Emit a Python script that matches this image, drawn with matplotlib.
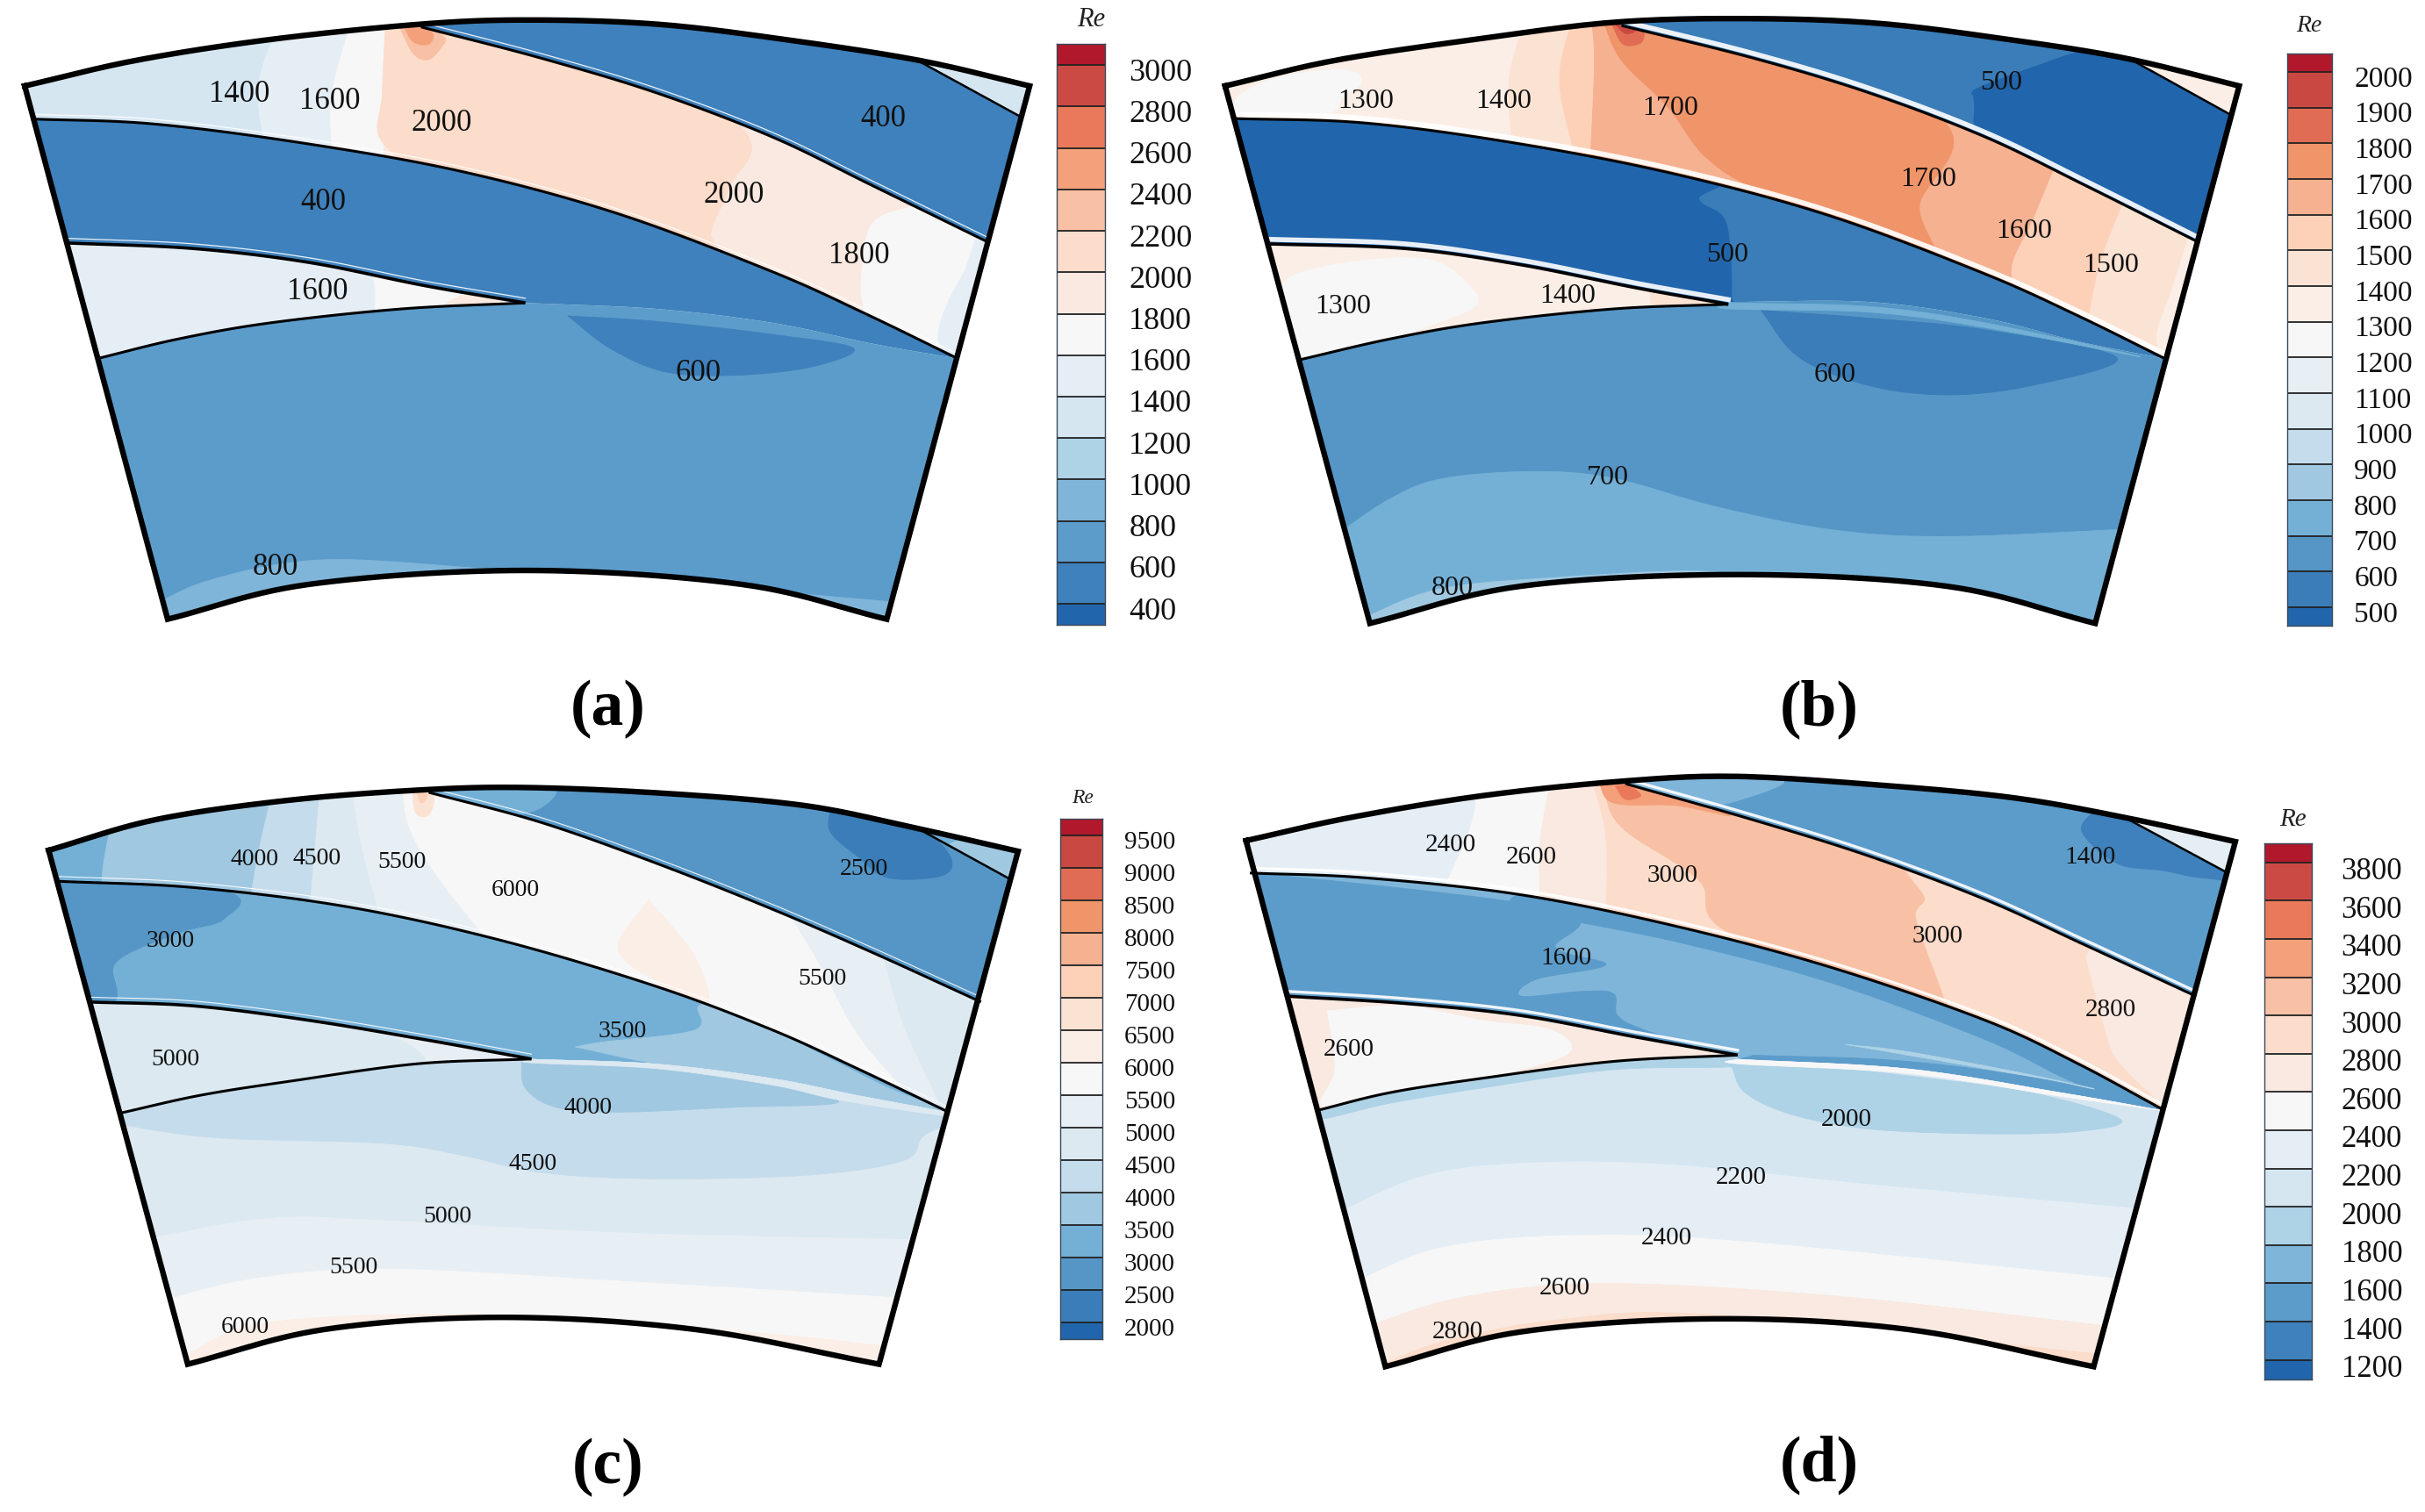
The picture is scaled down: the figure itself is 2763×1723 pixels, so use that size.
import numpy as np
import matplotlib
matplotlib.use("Agg")
import matplotlib.pyplot as plt
from matplotlib.colors import ListedColormap, BoundaryNorm
from matplotlib.patches import Polygon, PathPatch
from matplotlib.path import Path
from matplotlib.transforms import ScaledTranslation

plt.rcParams['font.family'] = ['Liberation Serif', 'DejaVu Serif']

PAL15 = ["#2166ac","#3e81bc","#5c9ccb","#7fb5d9","#aed2e6","#d5e6f1","#e6eef5","#f7f7f7","#f9e9e0","#fcdcca","#f8c0a4","#f4a07a","#e9795a","#cc4a44","#b2182b"]
PAL17 = ["#2166ac","#3a7db8","#5596c6","#74b0d6","#a0c8e1","#c5dcec","#dce9f1","#e8eff4","#f7f7f7","#fbeee6","#fbe3d4","#fdd1b8","#f6b191","#f09469","#e16c54","#ca4842","#b2182b"]

levels_a = list(range(400, 3001, 200))
levels_b = list(range(500, 2001, 100))
levels_c = list(range(2000, 9501, 500))
levels_d = list(range(1200, 3801, 200))

# ---------- panel a geometry ----------
top_a = [(32,185),(176,130),(350,85),(545,52),(683,43),(850,52),(1016,85),(1190,130),(1333,185)]
bot_a = [(217,1333),(400,1258),(680,1228),(960,1258),(1148,1333)]
b1_a = [(545,58),(700,125),(850,200),(1000,295),(1130,400),(1280,522)]
b2_a = [(40,256),(200,267),(400,310),(600,370),(800,460),(1000,585),(1120,675),(1240,772)]
b3_a = [(86,523),(250,535),(400,565),(550,615),(680,652)]
b4_a = [(680,652),(520,665),(350,695),(230,730),(126,772)]
wake_a = [(680,652),(850,665),(1000,695),(1130,740),(1240,772)]
corner_a = [(1190,132),(1322,252)]
regions_a = [
 ('z1',1300,None,None),
 ('z1',1500,[(370,20),(335,180),(345,340)],'R'),
 ('z1',1700,[(460,20),(430,200),(430,340)],'R'),
 ('z1',1900,[(500,20),(497,200),(497,340)],'R'),
 ('z1',2100,[(500,30),(495,200),(497,310),(600,400),(920,570),(920,500),(945,400),(965,285),(800,100),(500,30)],None),
 ('z1',1700,[(1190,440),(1130,480),(1115,600),(1120,690)],'R'),
 ('z1',1500,[(1250,580),(1225,660),(1215,730),(1235,790)],'R'),
 ('z1',2300,[(515,50),(535,115),(555,128),(572,100),(575,80),(545,50),(515,50)],None),
 ('z1',2500,[(522,55),(535,90),(555,95),(560,72),(540,55),(522,55)],None),
 ('z2',500,None,None),
 ('z3',1300,None,None),
 ('z4',500,None,None),
 ('z5',1500,None,None),
 ('z5',1700,[(470,560),(485,610),(485,700)],'R'),
 ('z5',1900,[(580,650),(605,635),(650,652),(580,660),(580,650)],None),
 ('z6',700,None,None),
 ('z6',500,[(735,680),(790,750),(860,800),(950,808),(1050,790),(1105,750),(1000,720),(850,692),(735,680)],None),
 ('z6',900,[(180,1320),(270,1250),(420,1205),(640,1225),(800,1232),(1000,1272),(1170,1298)],'D'),
]
labels_a = [("1400",310,198),("1600",427,212),("2000",572,260),("400",1143,250),("400",418,430),("2000",950,415),("1800",1112,545),("1600",411,622),("600",904,798),("800",357,1215)]

# ---------- panel b geometry ----------
top_b = [(18,185),(160,130),(340,85),(520,48),(690,40),(860,50),(1030,85),(1180,125),(1328,185)]
bot_b = [(205,1342),(400,1262),(680,1237),(950,1262),(1142,1342)]
b1_b = [(530,55),(700,125),(850,200),(1000,295),(1130,400),(1276,522)]
b2_b = [(26,255),(200,265),(400,310),(600,375),(800,465),(1000,590),(1120,680),(1232,772)]
b3_b = [(72,525),(250,535),(400,570),(550,620),(668,655)]
b4_b = [(668,655),(520,665),(350,695),(230,730),(113,775)]
wake_b = [(668,650),(850,650),(1000,685),(1120,735),(1232,772)]
corner_b = [(1190,130),(1318,248)]
regions_b = [
 ('z1',1350,None,None),
 ('z1',1250,[(25,232),(40,200),(90,165),(170,150),(195,175),(170,210),(150,245),(60,245),(25,232)],None),
 ('z1',1450,[(410,20),(385,170),(390,340)],'R'),
 ('z1',1550,[(470,20),(450,170),(470,340)],'R'),
 ('z1',1650,[(490,20),(495,130),(490,340)],'R'),
 ('z1',1750,[(505,40),(530,130),(590,230),(640,340),(720,420),(925,560),(915,440),(955,280),(800,100),(505,40)],None),
 ('z1',1550,[(1085,380),(1060,480),(1035,570),(1040,640)],'R'),
 ('z1',1450,[(1175,450),(1150,560),(1135,680),(1140,740)],'R'),
 ('z1',1350,[(1255,550),(1240,630),(1222,720),(1230,800)],'R'),
 ('z1',1850,[(517,50),(532,95),(555,92),(558,65),(540,50),(517,50)],None),
 ('z1',1950,[(522,52),(535,72),(548,66),(540,52),(522,52)],None),
 ('z2',550,None,None),
 ('z2',450,[(985,210),(990,190),(1070,140),(1130,110),(1200,115),(1400,300),(1400,600),(1130,420),(1000,310),(985,210)],None),
 ('z3',1350,None,None),
 ('z4',550,None,None),
 ('z4',450,[(-20,200),(620,350),(630,430),(665,480),(672,640),(660,680),(-20,600),(-20,200)],None),
 ('z5',1350,None,None),
 ('z5',1250,[(80,640),(110,590),(200,560),(285,560),(330,610),(340,660),(250,720),(130,790),(90,720),(80,640)],None),
 ('z5',1450,[(565,600),(568,650),(570,700)],'R'),
 ('z6',650,None,None),
 ('z6',550,[(710,668),(760,770),(850,830),(950,850),(1060,830),(1170,770),(1000,710),(850,685),(710,668)],None),
 ('z6',750,[(150,1165),(230,1075),(300,1030),(420,1015),(520,1030),(650,1090),(800,1140),(950,1155),(1200,1138)],'D'),
 ('z6',850,[(190,1335),(290,1270),(430,1245),(650,1232),(660,1300)],'D'),
 ('z6',750,[(668,652),(850,660),(1000,695),(1200,768),(1000,705),(850,672),(668,665),(668,652)],None),
]
labels_b = [("1300",200,212),("1400",378,212),("1700",593,227),("500",1020,173),("1700",926,381),("1600",1050,492),("1500",1162,565),("500",667,543),("1400",460,632),("1300",170,655),("600",806,802),("700",512,1023),("800",312,1260)]

# ---------- panel c geometry ----------
top_c = [(63,198),(200,135),(370,95),(545,73),(680,68),(860,80),(1040,105),(1180,150),(1318,200)]
bot_c = [(243,1262),(420,1190),(650,1165),(900,1190),(1138,1262)]
b1_c = [(555,78),(700,140),(850,225),(1000,320),(1130,410),(1270,512)]
b2_c = [(74,262),(250,275),(450,315),(650,385),(850,480),(1000,570),(1110,650),(1228,740)]
b3_c = [(114,512),(250,520),(400,550),(550,590),(688,630)]
b4_c = [(688,630),(540,640),(380,675),(260,705),(156,742)]
wake_c = [(688,630),(850,640),(1000,670),(1110,705),(1228,740)]
corner_c = [(1185,150),(1308,258)]
regions_c = [
 ('z1',3250,None,None),
 ('z1',3750,[(150,100),(135,215),(130,300)],'R'),
 ('z1',4250,[(355,60),(335,200),(320,340)],'R'),
 ('z1',4750,[(415,60),(400,340)],'R'),
 ('z1',5250,[(455,60),(470,200),(500,380)],'R'),
 ('z1',5750,[(520,50),(530,150),(570,260),(650,420)],'R'),
 ('z1',6250,[(840,300),(900,420),(915,520),(850,470),(800,400),(840,300)],None),
 ('z1',5250,[(1010,300),(1060,430),(1120,600),(1225,780)],'R'),
 ('z1',4750,[(1140,400),(1170,560),(1210,700),(1230,780)],'R'),
 ('z1',6750,[(533,60),(538,120),(555,125),(562,85),(550,60),(533,60)],None),
 ('z1',7250,[(538,70),(545,100),(553,85),(546,70),(538,70)],None),
 ('z2',2750,None,None),
 ('z2',3250,[(555,60),(710,60),(700,110),(640,125),(555,90),(555,60)],None),
 ('z2',2250,[(1075,110),(1075,160),(1110,210),(1150,255),(1220,250),(1230,210),(1190,150),(1120,110),(1075,110)],None),
 ('z3',3250,None,None),
 ('z3',3750,[(1250,170),(1225,200),(1290,260),(1340,260),(1340,170),(1250,170)],None),
 ('z4',3250,None,None),
 ('z4',2750,[(-20,230),(285,280),(290,340),(230,370),(150,430),(140,520),(-20,540),(-20,230)],None),
 ('z4',3750,[(745,605),(780,595),(900,570),(905,520),(950,530),(1050,610),(1150,690),(1230,745),(1000,675),(850,640),(745,605)],None),
 ('z5',4750,None,None),
 ('z5',5250,[(480,560),(540,610),(560,660)],'R'),
 ('z6',4750,None,None),
 ('z6',4250,[(140,760),(210,780),(300,795),(500,805),(600,830),(700,865),(850,878),(1050,870),(1170,840),(1195,790),(1240,740),(1240,600),(140,600),(140,760)],None),
 ('z6',3750,[(675,630),(680,690),(720,730),(800,740),(950,730),(1085,720),(1000,680),(850,650),(675,630)],None),
 ('z6',4750,[(688,630),(850,640),(1000,670),(1110,705),(1228,740),(1225,748),(1090,716),(1000,684),(850,650),(688,638),(688,630)],None),
 ('z6',5250,[(180,1005),(350,960),(500,965),(800,990),(1200,1005)],'D'),
 ('z6',5750,[(200,1135),(330,1085),(500,1065),(800,1090),(1170,1125)],'D'),
 ('z6',6250,[(230,1250),(350,1175),(650,1160),(1000,1200),(1160,1228)],'D'),
]
labels_c = [("4000",329,214),("4500",410,212),("5500",520,218),("6000",667,277),("2500",1118,233),("3000",221,383),("5500",1065,461),("3500",806,570),("5000",227,628),("4000",761,728),("4500",690,843),("5000",579,953),("5500",458,1058),("6000",317,1182)]

# ---------- panel d geometry ----------
top_d = [(45,178),(180,130),(350,85),(530,55),(680,45),(880,65),(1040,90),(1180,130),(1323,180)]
bot_d = [(225,1267),(400,1195),(650,1168),(900,1190),(1140,1267)]
b1_d = [(535,60),(700,135),(850,210),(1000,300),(1130,395),(1272,500)]
b2_d = [(50,245),(200,255),(400,290),(600,355),(800,440),(1000,550),(1120,640),(1232,737)]
b3_d = [(98,500),(250,515),(400,540),(550,585),(680,622)]
b4_d = [(680,622),(520,635),(350,670),(230,700),(136,737)]
wake_d = [(680,630),(900,650),(1100,700),(1232,737)]
corner_d = [(1180,130),(1311,243)]
regions_d = [
 ('z1',2300,None,None),
 ('z1',2500,[(345,60),(335,150),(300,280)],'R'),
 ('z1',2700,[(440,40),(425,180),(425,320)],'R'),
 ('z1',2900,[(490,40),(510,170),(510,350)],'R'),
 ('z1',3100,[(505,60),(530,150),(630,260),(670,370),(945,540),(945,500),(910,340),(915,280),(800,130),(505,60)],None),
 ('z1',2700,[(1130,420),(1150,540),(1170,630),(1225,720)],'R'),
 ('z1',3300,[(500,55),(520,100),(600,105),(670,125),(540,55),(500,55)],None),
 ('z1',3500,[(522,65),(535,92),(555,85),(540,65),(522,65)],None),
 ('z2',1500,None,None),
 ('z2',1700,[(540,50),(735,50),(680,95),(620,105),(540,70),(540,50)],None),
 ('z2',1300,[(1140,115),(1125,160),(1170,225),(1230,240),(1280,255),(1330,250),(1200,125),(1140,115)],None),
 ('z3',2300,None,None),
 ('z4',1700,None,None),
 ('z4',1500,[(-20,230),(445,320),(445,400),(510,435),(420,465),(400,500),(480,490),(520,495),(525,540),(560,570),(670,630),(500,570),(300,520),(-20,520),(-20,230)],None),
 ('z4',1500,[(400,280),(600,345),(800,430),(1000,540),(1120,630),(1240,745),(1200,735),(1100,668),(1000,590),(800,472),(600,387),(400,320),(400,280)],None),
 ('z4',1900,[(820,600),(900,615),(1050,660),(1140,692),(1000,650),(820,600)],None),
 ('z4',1500,[(700,622),(900,635),(1100,680),(1240,745),(1100,705),(900,658),(700,635),(700,622)],None),
 ('z5',2700,None,None),
 ('z5',2500,[(150,530),(250,520),(350,550),(440,570),(460,620),(350,670),(250,690),(145,730),(160,650),(150,530)],None),
 ('z6',2100,None,None),
 ('z6',1900,[(672,645),(690,700),(750,745),(850,775),(1000,785),(1120,780),(1175,755),(1060,700),(900,665),(750,640),(672,645)],None),
 ('z6',1900,[(130,737),(230,695),(350,665),(520,630),(680,620),(680,645),(520,652),(350,690),(230,722),(140,755),(130,737)],None),
 ('z6',2500,[(680,630),(900,650),(1100,700),(1232,737),(1100,708),(900,660),(680,640),(680,630)],None),
 ('z6',2300,[(160,950),(280,870),(420,845),(600,850),(850,890),(1210,942)],'D'),
 ('z6',2500,[(180,1095),(300,1020),(480,995),(700,1010),(1190,1088)],'D'),
 ('z6',2700,[(190,1190),(320,1125),(500,1095),(800,1120),(1170,1185)],'D'),
 ('z6',2900,[(210,1270),(300,1215),(450,1170),(650,1160),(1170,1245)],'D'),
]
labels_d = [("2400",309,183),("2600",413,208),("3000",596,247),("1400",1136,208),("3000",938,373),("1600",459,417),("2800",1162,525),("2600",178,606),("2000",821,752),("2200",684,872),("2400",588,997),("2600",457,1100),("2800",318,1192)]

W, H = 2763, 1723
fig = plt.figure(figsize=(W/100, H/100), dpi=100, facecolor='white')

def smooth(pts, n=14):
    P = np.array(pts, float)
    Q = np.vstack([2*P[0]-P[1], P, 2*P[-1]-P[-2]])
    out = []
    for i in range(1, len(Q)-2):
        p0, p1, p2, p3 = Q[i-1], Q[i], Q[i+1], Q[i+2]
        for t in np.linspace(0, 1, n, endpoint=False):
            out.append(0.5*((2*p1)+(-p0+p2)*t+(2*p0-5*p1+4*p2-p3)*t*t+(-p0+3*p1-3*p2+p3)*t**3))
    out.append(P[-1])
    return np.array(out)

PANELS = [
 dict(crop=(0,0,1380,830), levels=levels_a, pal=PAL15, top=top_a, bot=bot_a, b1=b1_a, b2=b2_a, b3=b3_a, b4=b4_a, wake=wake_a, corner=corner_a,
      regions=regions_a, labels=labels_a, fs=25, name="(a)", cap=(787,1526), re=(1413,43), bar=(1368,1430,95,1345), line0=1300, line1=140, cfs=26, pad=20, shift=5, halo=0.9),
 dict(crop=(1380,0,1383,830), levels=levels_b, pal=PAL17, top=top_b, bot=bot_b, b1=b1_b, b2=b2_b, b3=b3_b, b4=b4_b, wake=wake_b, corner=corner_b,
      regions=regions_b, labels=labels_b, fs=23, name="(b)", cap=(785,1526), re=(1418,55), bar=(1390,1448,115,1347), line0=1307, line1=155, cfs=24, pad=18, shift=5, halo=4.0),
 dict(crop=(0,860,1380,863), levels=levels_c, pal=PAL17, top=top_c, bot=bot_c, b1=b1_c, b2=b2_c, b3=b3_c, b4=b4_c, wake=wake_c, corner=corner_c,
      regions=regions_c, labels=labels_c, fs=20, name="(c)", cap=(787,1476), re=(1402,90), bar=(1373,1427,132,1210), line0=1175, line1=168, cfs=21, pad=18, shift=5, halo=0.8),
 dict(crop=(1380,860,1383,863), levels=levels_d, pal=PAL15, top=top_d, bot=bot_d, b1=b1_d, b2=b2_d, b3=b3_d, b4=b4_d, wake=wake_d, corner=corner_d,
      regions=regions_d, labels=labels_d, fs=21, name="(d)", cap=(785,1471), re=(1397,135), bar=(1360,1422,183,1293), line0=1253, line1=223, cfs=25, pad=24, shift=7, halo=2.4),
]

for p in PANELS:
    cx, cy, cw, ch = p['crop']
    ax = fig.add_axes([cx/W, 1-(cy+ch)/H, cw/W, ch/H])
    ax.set_xlim(0, 1568); ax.set_ylim(1568, 0); ax.axis('off')

    lv = np.array(p['levels'], float)
    step = lv[1]-lv[0]
    bounds = np.r_[lv[0]-step, lv, lv[-1]+step]
    cmap = ListedColormap(p['pal'])
    norm = BoundaryNorm(bounds, cmap.N)

    top = smooth(p['top']); bot = smooth(p['bot'])
    b1, b2, b3, b4 = [smooth(p[k]) for k in ('b1','b2','b3','b4')]
    wake = smooth(p['wake'])
    c0, c1 = p['corner']
    F = 1700.0
    zones = {
      'z1': np.vstack([[(-F,b2[0][1])],[(-F,-F)],[(b1[0][0],-F)],b1,[(F,b1[-1][1])],[(F,b2[-1][1])],b2[::-1]]),
      'z2': np.vstack([[(b1[0][0],-F)],[(F,-F)],[(F,b1[-1][1])],b1[::-1]]),
      'z3': np.array([(c0[0],-F),(F,-F),(F,c1[1]),c1,c0]),
      'z4': np.vstack([b2,[(F,b2[-1][1])],wake[::-1],b3[::-1],[(-F,b3[0][1])],[(-F,b2[0][1])]]),
      'z5': np.vstack([[(-F,b3[0][1])],b3,b4[1:],[(-F,b4[-1][1])]]),
      'z6': np.vstack([[(-F,b4[-1][1])],b4[::-1],wake,[(F,wake[-1][1])],[(F,F)],[(-F,F)]]),
    }
    for zone, val, pts, mode in p['regions']:
        col = cmap(norm(val))
        zp = Polygon(zones[zone], closed=True, transform=ax.transData)
        if pts is None:
            xy = zones[zone]
        else:
            xy = smooth(pts)
            if mode == 'R':
                xy = np.vstack([xy, [(F, F)], [(F, -F)]])
            elif mode == 'D':
                xy = np.vstack([xy, [(xy[-1][0], F)], [(xy[0][0], F)]])
        patch, = ax.fill(xy[:,0], xy[:,1], color=col, lw=0.6, zorder=2)
        patch.set_clip_path(zp)

    # white halo along the blades
    for b in (b1, b2, b3):
        ax.plot(b[:,0], b[:,1]-10, color='white', lw=p['halo'], zorder=3, alpha=0.9)

    # outside mask
    sector = np.vstack([top, bot[::-1], top[:1]])
    area = 0.5*np.sum(sector[:-1,0]*sector[1:,1]-sector[1:,0]*sector[:-1,1])
    rect = np.array([(-5,-5),(1573,-5),(1573,1573),(-5,1573),(-5,-5)])
    area_r = 0.5*np.sum(rect[:-1,0]*rect[1:,1]-rect[1:,0]*rect[:-1,1])
    if np.sign(area) == np.sign(area_r):
        sector = sector[::-1]
    verts = np.vstack([rect, sector])
    codes = [Path.MOVETO]+[Path.LINETO]*(len(rect)-1)+[Path.MOVETO]+[Path.LINETO]*(len(sector)-1)
    ax.add_patch(PathPatch(Path(verts, codes), fc='white', ec='none', zorder=4))

    for b, lw in ((b1,2.2),(b2,2.2),(b3,2.6),(b4,2.2)):
        ax.plot(b[:,0], b[:,1], color='black', lw=lw, zorder=5, solid_capstyle='butt')
    ax.plot([c0[0],c1[0]], [c0[1],c1[1]], color='black', lw=1.8, zorder=5)
    outline = np.vstack([top, bot[::-1], top[:1]])
    ax.plot(outline[:,0], outline[:,1], color='black', lw=4.6, zorder=6, solid_joinstyle='miter')

    label_dy = 6 if ch == 830 else 4
    for t, x, y in p['labels']:
        ax.text(x, y+label_dy, t, ha='center', va='center', fontsize=p['fs'], color='#111111', zorder=7)
    ax.text(p['cap'][0], p['cap'][1], p['name'], ha='center', va='center', fontsize=53, fontweight='bold', color='black', zorder=7)

    # colour bar
    x0, x1, y0, y1 = p['bar']
    fx = lambda v: (cx+v*cw/1568)/W
    fy = lambda v: 1-(cy+v*ch/1568)/H
    bax = fig.add_axes([fx(x0), fy(y1), fx(x1)-fx(x0), fy(y0)-fy(y1)], zorder=5)
    per = (p['line0']-p['line1'])/(lv[-1]-lv[0])
    lo = lv[0]-(y1-p['line0'])/per
    hi = lv[-1]+(p['line1']-y0)/per
    bax.set_ylim(lo, hi); bax.set_xlim(0, 1)
    edges = np.r_[lo, lv, hi]
    for i in range(len(edges)-1):
        bax.bar(0.5, edges[i+1]-edges[i], bottom=edges[i], width=1, color=p['pal'][i], lw=0)
    bax.hlines(lv, 0, 1, color='#222222', lw=1.3)
    bax.set_xticks([])
    bax.yaxis.tick_right()
    bax.set_yticks(lv)
    bax.set_yticklabels([str(int(v)) for v in lv], fontsize=p['cfs'], color='#111111')
    bax.tick_params(axis='y', length=0, pad=p['pad'])
    for lab in bax.get_yticklabels():
        lab.set_transform(lab.get_transform()+ScaledTranslation(0, -p['shift']/100, fig.dpi_scale_trans))
    for s in bax.spines.values():
        s.set_color('#3a4a5a'); s.set_linewidth(1.0)
    ax.text(p['re'][0], p['re'][1], "Re", ha='center', va='center', fontsize=p['cfs']-4, style='italic', color='#222222', zorder=7, clip_on=False)

fig.savefig("out.png", dpi=100, facecolor='white')
